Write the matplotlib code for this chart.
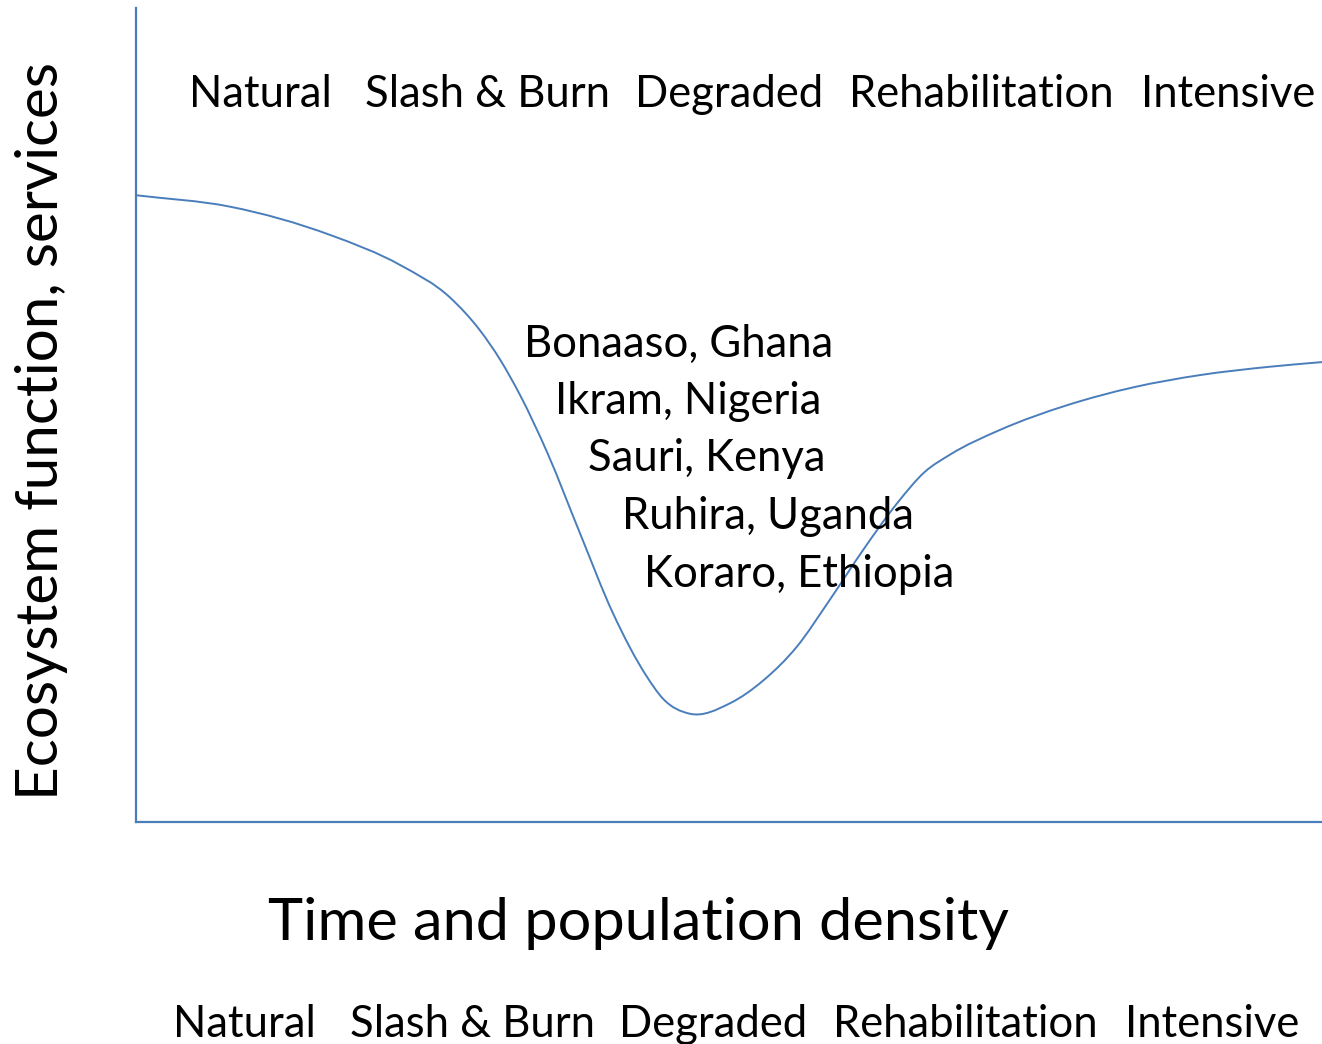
import matplotlib
matplotlib.use("Agg")
import matplotlib.pyplot as plt
import numpy as np
from matplotlib.path import Path
from matplotlib.patches import PathPatch

plt.rcParams['font.family'] = ['Lato', 'DejaVu Sans']

# curve: time / population density (0-100) vs ecosystem function (0-100)
time = [0, 7.9, 16.4, 22.3, 26.5, 29.0, 30.7, 32.4, 34.7, 37.4, 40.2, 43.1, 44.4, 46.7,
        50.1, 52.9, 55.7, 58.5, 61.3, 64.2, 66.5, 68.6, 72.9, 78.5, 84.1, 89.7, 95.4, 100]
func = [77.0, 75.6, 72.1, 68.4, 64.4, 60.4, 56.8, 52.4, 45.3, 35.6, 25.7, 17.8, 15.2, 13.3,
        14.6, 17.4, 21.5, 27.3, 33.4, 39.2, 43.0, 45.1, 48.2, 51.2, 53.4, 54.9, 55.9, 56.5]

stages = ["Natural", "Slash & Burn", "Degraded", "Rehabilitation", "Intensive"]
sites = ["Bonaaso, Ghana", "Ikram, Nigeria", "Sauri, Kenya", "Ruhira, Uganda", "Koraro, Ethiopia"]
xlabel = "Time and population density"
ylabel = "Ecosystem function, services"

W, H = 1322, 1044
blue = '#4A7EBB'

fig = plt.figure(figsize=(W / 100, H / 100), dpi=100)
ax = fig.add_axes([136 / W, 222 / H, 1186 / W, 814 / H])

# smooth line through the read points: cubic Hermite pieces drawn as Bezier segments
x = np.array(time, dtype=float)
y = np.array(func, dtype=float)
h = np.diff(x)
d = np.diff(y) / h
m = np.empty_like(x)
m[0], m[-1] = d[0], d[-1]
m[1:-1] = (d[:-1] * h[1:] + d[1:] * h[:-1]) / (h[:-1] + h[1:])
verts = [(x[0], y[0])]
codes = [Path.MOVETO]
for i in range(len(h)):
    verts += [(x[i] + h[i] / 3, y[i] + m[i] * h[i] / 3),
              (x[i + 1] - h[i] / 3, y[i + 1] - m[i + 1] * h[i] / 3),
              (x[i + 1], y[i + 1])]
    codes += [Path.CURVE4] * 3
ax.add_patch(PathPatch(Path(verts, codes), facecolor='none', edgecolor=blue, lw=1.4))

ax.set_xlim(0, 100)
ax.set_ylim(0, 100)
ax.set_xticks([])
ax.set_yticks([])
for s in ['top', 'right']:
    ax.spines[s].set_visible(False)
for s in ['left', 'bottom']:
    ax.spines[s].set_color(blue)
    ax.spines[s].set_linewidth(1.6)


def px(x, y):
    # pixel position (from top-left) -> figure fraction
    return x / W, 1 - y / H


def fit(texts, target, vertical=False):
    # scale a group of texts so their total size matches the target (pixels)
    fig.canvas.draw()
    r = fig.canvas.get_renderer()
    got = 0
    for t in texts:
        bb = t.get_window_extent(r)
        got += bb.height if vertical else bb.width
    size = texts[0].get_fontsize() * target / got
    for t in texts:
        t.set_fontsize(size)


# stage labels, top row and bottom row
top_left = [189, 365, 636, 848, 1141]
top_right = [331, 610, 822, 1114, 1315]
bot_left = [173, 349, 621, 832, 1125]
bot_right = [316, 595, 806, 1099, 1299]

top = []
bot = []
for i, name in enumerate(stages):
    cx = (top_left[i] + top_right[i]) / 2
    top.append(fig.text(*px(cx, 107), name, ha='center', va='baseline', fontsize=30))
    cx = (bot_left[i] + bot_right[i]) / 2
    bot.append(fig.text(*px(cx, 1037), name, ha='center', va='baseline', fontsize=30))
fit(top, sum(r - l for l, r in zip(top_left, top_right)))
fit(bot, sum(r - l for l, r in zip(bot_left, bot_right)))

# study sites written along the dip
site_left = [524, 555, 588, 622, 644]
site_right = [835, 825, 822, 916, 951]
site_base = [357, 414, 471, 529, 587]
st = []
for i, name in enumerate(sites):
    st.append(fig.text(*px(site_left[i], site_base[i]), name, ha='left', va='baseline', fontsize=28))
fit(st, sum(r - l for l, r in zip(site_left, site_right)))

# axis titles
xt = fig.text(*px(638, 940), xlabel, ha='center', va='baseline', fontsize=40)
fit([xt], 1008 - 268)
yt = fig.text(*px(58, 431), ylabel, ha='center', va='baseline', rotation=90, fontsize=40,
              rotation_mode='anchor')
fit([yt], 737, vertical=True)

fig.savefig("out.png", dpi=100)
